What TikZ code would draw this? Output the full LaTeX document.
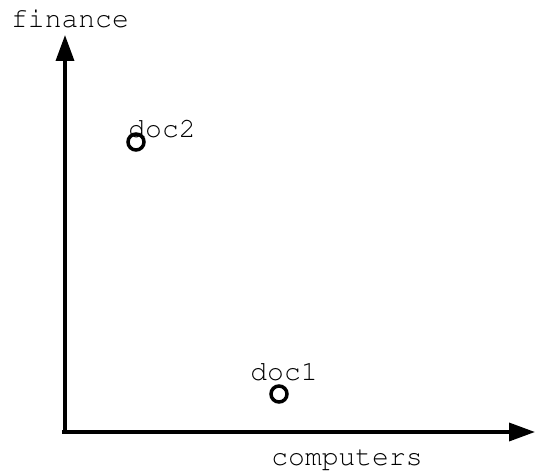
\documentclass[tikz,border=0pt]{standalone}
\usepackage{fontspec}
\usetikzlibrary{arrows.meta}

\tikzset{
  axisline/.style={line width=3.5pt,-{Triangle[length=26pt,width=18pt]}},
  docdot/.style={circle,draw,line width=3.5pt,minimum size=16pt,inner sep=0pt},
  plotlabel/.style={inner sep=0pt,anchor=base,
    font=\fontencoding{T1}\fontfamily{pcr}\fontsize{28}{30}\selectfont}
}

\begin{document}
\begin{tikzpicture}[x=1pt,y=-1pt]
  \useasboundingbox (0,0) rectangle (535,476);
  % axes
  \coordinate (orig) at (65,432);
  \coordinate (xtip) at (535,432);
  \coordinate (ytip) at (65,35);
  \draw[axisline] ([xshift=-3pt]orig) -- (xtip);
  \draw[axisline] ([yshift=1.7pt]orig) -- (ytip);
  \node[plotlabel] (xlab) at (347,465) {computers};
  \node[plotlabel] (ylab) at (70,28) {finance};
  % documents
  \node[docdot] (doc1) at (279,394) {};
  \node[docdot] (doc2) at (136,142) {};
  \node[plotlabel] (doc1lab) at (284,380) {doc1};
  \node[plotlabel] (doc2lab) at (162,138) {doc2};
\end{tikzpicture}
\end{document}
